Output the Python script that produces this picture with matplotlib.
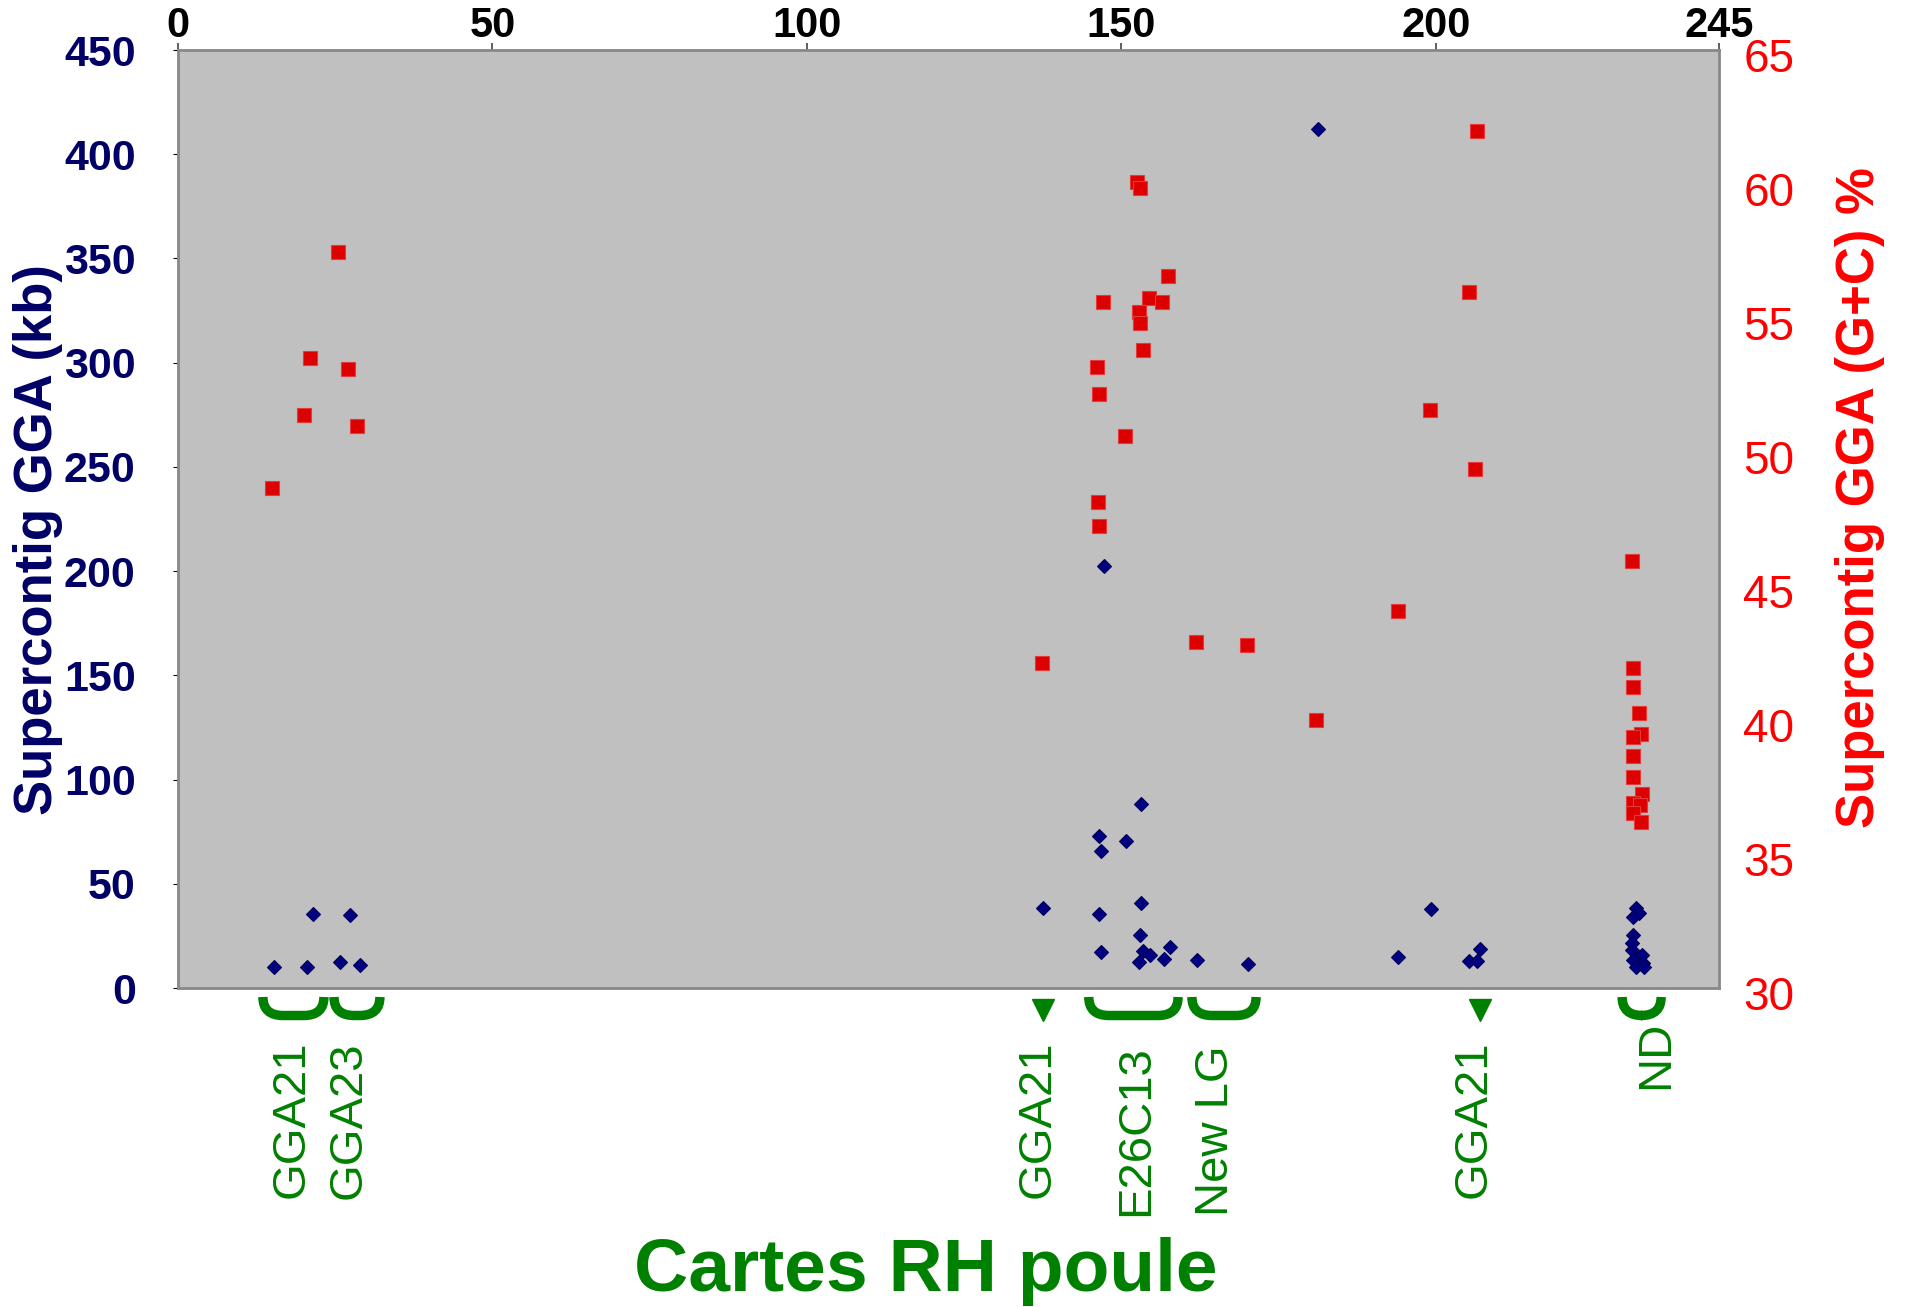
import matplotlib
matplotlib.use("Agg")
import matplotlib.pyplot as plt
from matplotlib.path import Path
from matplotlib.patches import PathPatch
from matplotlib.transforms import blended_transform_factory, ScaledTranslation

plt.rcParams["font.family"] = ["Liberation Sans", "DejaVu Sans"]

# Supercontig size (kb) along the chicken RH map
size_pos = [15.3, 20.5, 21.5, 25.8, 27.3, 28.9,
            137.5, 147.3,
            153.1, 146.4, 150.7, 146.7, 153.1, 146.5, 152.9, 146.8, 157.7,
            153.4, 154.5, 152.8, 156.8, 162.0, 170.1,
            181.2, 199.2, 194.0, 205.2, 206.6, 207.0,
            231.8, 232.3, 231.3, 231.4, 231.2, 231.2, 232.7, 231.4, 232.9,
            231.8, 233.1]
size_kb = [10.2, 9.9, 35.7, 12.6, 35.2, 11.0,
           38.5, 202.5,
           88.1, 72.8, 70.7, 65.6, 40.9, 35.4, 25.3, 17.3, 19.8,
           17.8, 15.8, 12.3, 13.8, 13.4, 11.5,
           412.1, 38.0, 14.7, 13.0, 13.0, 18.7,
           38.2, 35.8, 34.2, 25.4, 21.4, 18.2, 15.8, 13.4, 11.8,
           10.2, 10.2]

# Supercontig G+C content (%) along the same map
gc_pos = [14.9, 20.0, 21.0, 25.4, 27.1, 28.5,
          137.3,
          152.5, 152.9, 157.4, 147.1, 154.4, 156.5, 152.8, 152.9, 153.4,
          146.1, 146.5, 150.6, 146.3, 146.5,
          161.9, 170.0, 181.0, 194.0, 199.0, 205.2, 206.6, 206.2,
          231.2, 231.3, 231.4, 232.3, 232.6, 231.3, 231.3, 231.3, 232.8,
          231.3, 232.5, 231.3, 232.6]
gc_pct = [48.67, 51.37, 53.50, 57.45, 53.09, 50.98,
          42.14,
          60.09, 59.84, 56.58, 55.59, 55.75, 55.61, 55.24, 54.83, 53.81,
          53.16, 52.15, 50.60, 48.13, 47.24,
          42.91, 42.78, 40.00, 44.05, 51.55, 55.96, 61.96, 49.37,
          45.93, 41.93, 41.24, 40.25, 39.48, 39.38, 38.67, 37.86, 37.24,
          36.91, 36.83, 36.52, 36.21]

x_ticks = [0, 50, 100, 150, 200, 245]
kb_ticks = list(range(0, 451, 50))
gc_ticks = list(range(30, 66, 5))

# Linkage groups marked under the map
group_names = ["GGA21", "GGA23", "GGA21", "E26C13", "New LG", "GGA21", "ND"]
group_kind = ["brace", "brace", "arrow", "brace", "brace", "arrow", "brace"]
group_start = [13.5, 24.8, 137.6, 144.8, 161.2, 207.0, 229.6]
group_end = [23.2, 32.1, 137.6, 159.0, 171.4, 207.0, 235.8]
label_x = [18.0, 27.2, 136.6, 152.3, 165.0, 206.0, 235.0]
label_top = [1041, 1041, 1041, 1045, 1045, 1041, 1021]

NAVY = "#000066"
RED = "#ff0000"
GREEN = "#008000"

W, H = 1910, 1307
fig = plt.figure(figsize=(W / 100, H / 100), dpi=100)
ax = fig.add_axes([178 / W, 1 - 988 / H, (1719 - 178) / W, (988 - 50) / H])
ax.set_facecolor("#c0c0c0")
for sp in ax.spines.values():
    sp.set_color("#888888")
    sp.set_linewidth(2)

ax.plot(size_pos, size_kb, linestyle="none", marker="D", markersize=7.2,
        color="#000080", markeredgecolor="#00005a", markeredgewidth=0.8,
        clip_on=False, zorder=3)
ax.set_xlim(0, 245)
ax.set_ylim(0, 450)
ax.xaxis.tick_top()
ax.set_xticks(x_ticks)
ax.set_yticks(kb_ticks)
ax.tick_params(axis="x", top=True, bottom=False, direction="out", length=5,
               width=1.2, color="#444444", pad=-2, labelsize=30,
               labelcolor="black")
for t in ax.get_xticklabels():
    t.set_fontweight("bold")
ax.tick_params(axis="y", left=False, right=False, pad=27, labelsize=31,
               labelcolor=NAVY)
for t in ax.get_yticklabels():
    t.set_fontweight("bold")

ax2 = ax.twinx()
ax2.plot(gc_pos, gc_pct, linestyle="none", marker="s", markersize=10.5,
         color="#dd0000", markeredgecolor="#e43a3a", markeredgewidth=0.8,
         clip_on=False, zorder=4)
ax2.set_ylim(30, 65)
ax2.set_yticks(gc_ticks)
ax2.tick_params(axis="y", right=False, left=False, pad=14, labelsize=33,
                labelcolor=RED)
down = ScaledTranslation(0, -5 / 100, fig.dpi_scale_trans)
for t in ax2.get_yticklabels():
    t.set_transform(t.get_transform() + down)
for sp in ax2.spines.values():
    sp.set_visible(False)

# Braces and arrows below the plot, x in data units, y in figure pixels
tr = blended_transform_factory(ax.transData, fig.transFigure)


def fy(px):
    return 1 - px / H


top_px, bot_px = 997, 1015.5
r = 3.2
for name, kind, x0, x1, lx, ly in zip(group_names, group_kind, group_start,
                                       group_end, label_x, label_top):
    if kind == "brace":
        verts = [(x0, fy(top_px)), (x0, fy(bot_px)), (x0 + r, fy(bot_px)),
                 (x1 - r, fy(bot_px)), (x1, fy(bot_px)), (x1, fy(top_px))]
        codes = [Path.MOVETO, Path.CURVE3, Path.CURVE3, Path.LINETO,
                 Path.CURVE3, Path.CURVE3]
        fig.add_artist(PathPatch(Path(verts, codes), transform=tr,
                                 facecolor="none", edgecolor=GREEN,
                                 linewidth=6.8, capstyle="butt",
                                 clip_on=False))
    else:
        fig.add_artist(plt.Line2D([x0], [fy(1010)], transform=tr,
                                  marker="v", markersize=16.5,
                                  color=GREEN, linestyle="none",
                                  clip_on=False))
    fig.text(0, 0, name, transform=tr, rotation=90, ha="center", va="top",
             fontsize=34, color=GREEN).set_position((lx, fy(ly)))

fig.text(38 / W, fy(540), "Supercontig GGA (kb)", rotation=90,
         ha="center", va="center", fontsize=38, fontweight="bold", color=NAVY)
fig.text(1860 / W, fy(497.6), "Supercontig GGA (G+C) %", rotation=90,
         ha="center", va="center", fontsize=38, fontweight="bold", color=RED)
fig.text(926 / W, fy(1291), "Cartes RH poule", ha="center", va="baseline",
         fontsize=54, fontweight="bold", color=GREEN)

fig.savefig("out.png", dpi=100)
